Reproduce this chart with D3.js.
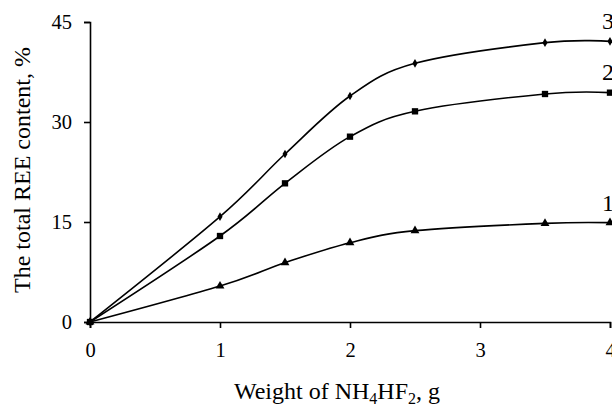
<!DOCTYPE html>
<html><head><meta charset="utf-8">
<script src="https://cdn.jsdelivr.net/npm/d3@7"></script>
</head><body style="margin:0"><svg id="c" width="612" height="407" font-family="Liberation Serif, Times New Roman, Tinos, serif"></svg>
<script>
const xValues = [0, 1, 1.5, 2, 2.5, 3.5, 4];
const series1 = [0, 5.4, 8.9, 11.9, 13.7, 14.8, 14.9];
const series2 = [0, 12.9, 20.8, 27.8, 31.6, 34.2, 34.4];
const series3 = [0, 15.8, 25.2, 33.9, 38.8, 41.9, 42.1];
const seriesLabels = ["1", "2", "3"];
const xTicks = [0, 1, 2, 3, 4];
const yTicks = [0, 15, 30, 45];
const FONT = '"Liberation Serif", "Times New Roman", Tinos, serif';

const svg = d3.select("#c");
const x = d3.scaleLinear().domain([0, 4]).range([90, 610]);
const y = d3.scaleLinear().domain([0, 45]).range([322, 22]);

const xAxis = svg.append("g").attr("transform", "translate(0,322)")
  .call(d3.axisBottom(x).tickValues(xTicks).tickSize(6).tickPadding(8).tickFormat(d3.format("d")));
const yAxis = svg.append("g").attr("transform", "translate(90,0)")
  .call(d3.axisLeft(y).tickValues(yTicks).tickSize(6).tickPadding(12).tickFormat(d3.format("d")));
[xAxis, yAxis].forEach(g => {
  g.attr("font-family", FONT).attr("font-size", 20.5);
  g.selectAll("path.domain").attr("stroke", "#000").attr("stroke-width", 1.6);
  g.selectAll(".tick line").attr("stroke", "#000").attr("stroke-width", 1.6);
  g.selectAll(".tick text").attr("font-family", FONT).attr("font-size", 20.5).attr("fill", "#000");
});
xAxis.selectAll(".tick text").attr("dy", "1em");

const line = d3.line().x(d => x(d[0])).y(d => y(d[1])).curve(d3.curveCatmullRom.alpha(0));
const all = [series1, series2, series3];
const shapes = [d3.symbolTriangle, d3.symbolSquare, d3.symbolDiamond];
const sizes = [34, 40, 22];
all.forEach((s, i) => {
  const pts = xValues.map((v, j) => [v, s[j]]);
  svg.append("path").datum(pts).attr("d", line).attr("fill", "none").attr("stroke", "#000").attr("stroke-width", 1.6);
  svg.append("g").selectAll("path").data(pts).join("path")
    .attr("transform", d => `translate(${x(d[0])},${y(d[1])})`)
    .attr("d", d3.symbol().type(shapes[i]).size(sizes[i])).attr("fill", "#000");
});

// series labels near right ends
const labelOffsets = [12, 13, 12];
all.forEach((s, i) => {
  svg.append("text").attr("x", x(4) - 8).attr("y", y(s[s.length - 1]) - labelOffsets[i])
    .attr("font-family", FONT).attr("font-size", 24).attr("fill", "#000").text(seriesLabels[i]);
});

// axis titles
const xt = svg.append("text").attr("x", 337).attr("y", 399).attr("text-anchor", "middle")
  .attr("font-family", FONT).attr("font-size", 24).attr("fill", "#000");
xt.append("tspan").text("Weight of NH");
xt.append("tspan").text("4").attr("font-size", 16).attr("dy", 5);
xt.append("tspan").text("HF").attr("dy", -5);
xt.append("tspan").text("2").attr("font-size", 16).attr("dy", 5);
xt.append("tspan").text(", g").attr("dy", -5);

svg.append("text").attr("transform", "translate(30,170) rotate(-90)").attr("text-anchor", "middle")
  .attr("font-family", FONT).attr("font-size", 24).attr("fill", "#000").text("The total REE content, %");
</script></body></html>
